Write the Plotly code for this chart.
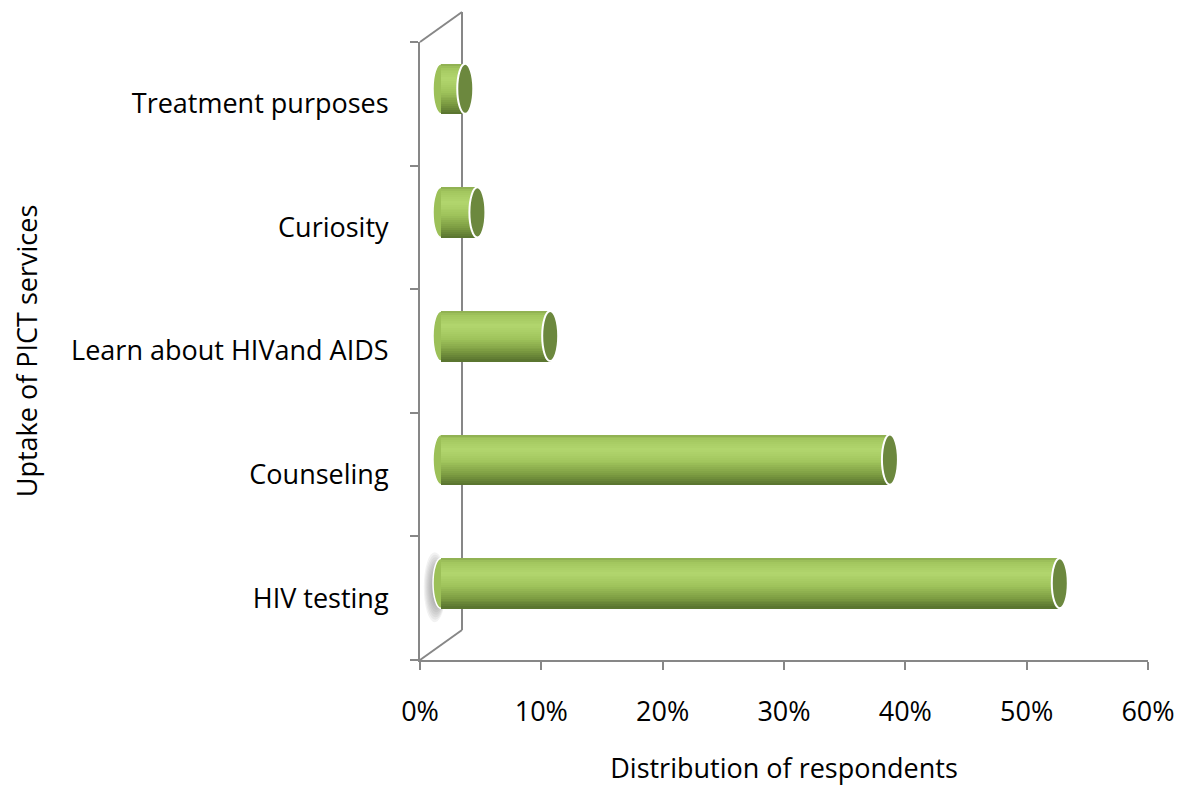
import plotly.graph_objects as go

# ---- data ----
categories = ["HIV testing", "Counseling", "Learn about HIVand AIDS", "Curiosity", "Treatment purposes"]
values = [51, 37, 9, 3, 2]          # percent of respondents
x_ticks = [0, 10, 20, 30, 40, 50, 60]
x_tick_labels = ["0%", "10%", "20%", "30%", "40%", "50%", "60%"]

# ---- geometry / style ----
W, H = 1189, 786
px_left, px_right = 420, 1148      # front x-axis extent (pixels)
px_top, px_bottom = 42, 660        # front y-axis extent (pixels)
depth_dx, depth_dy = 42, 30        # full 3-D depth offset (pixels)
bar_dx, bar_dy = depth_dx / 2, depth_dy / 2
FONT = "Open Sans"
FS = 27
AX_COL = "#878787"
bar_w = 0.405                      # bar thickness in category units
cap_px = 8                         # horizontal radius of the end ellipse (px)

def fx(px):
    return px / W

def fy(py):
    return 1 - py / H

px_per_unit = (px_right - px_left) / (x_ticks[-1] - x_ticks[0])
cap_rx = cap_px / px_per_unit
pad = 3.0                          # room left of zero on the bar axis for the rounded end

# vertical gradient of the cylinder (top -> bottom)
stops = [(0.0, (140, 172, 80)), (0.08, (162, 198, 94)), (0.3, (178, 214, 110)),
         (0.55, (160, 196, 92)), (0.8, (124, 156, 66)), (1.0, (88, 114, 46))]

def grad(t):
    for (t0, c0), (t1, c1) in zip(stops[:-1], stops[1:]):
        if t0 <= t <= t1:
            f = (t - t0) / (t1 - t0)
            c = [round(a + (b - a) * f) for a, b in zip(c0, c1)]
            return "rgb(%d,%d,%d)" % tuple(c)
    return "rgb(%d,%d,%d)" % stops[-1][1]

fig = go.Figure()

# invisible trace carrying the category axis
fig.add_trace(go.Scatter(x=values, y=categories, mode="markers",
                         marker=dict(opacity=0), hoverinfo="skip",
                         showlegend=False, xaxis="x", yaxis="y"))

idx = list(range(len(categories)))
N = 26
for k in range(N):
    top = bar_w / 2 - k * bar_w / N
    fig.add_trace(go.Bar(
        x=values, y=idx, orientation="h", base=0,
        offset=-bar_w / 2, width=top + bar_w / 2,
        marker=dict(color=grad((k + 0.5) / N), line=dict(width=0)),
        xaxis="x2", yaxis="y2", hoverinfo="skip", showlegend=False))

shapes = []
# 3-D wall / floor lines (decoration)
line = dict(color=AX_COL, width=2)
shapes.append(dict(type="line", xref="paper", yref="paper", layer="below",
                   x0=fx(px_left), y0=fy(px_top), x1=fx(px_left + depth_dx), y1=fy(px_top - depth_dy), line=line))
shapes.append(dict(type="line", xref="paper", yref="paper", layer="below",
                   x0=fx(px_left + depth_dx), y0=fy(px_top - depth_dy),
                   x1=fx(px_left + depth_dx), y1=fy(px_bottom - depth_dy), line=line))
shapes.append(dict(type="line", xref="paper", yref="paper", layer="below",
                   x0=fx(px_left), y0=fy(px_bottom), x1=fx(px_left + depth_dx), y1=fy(px_bottom - depth_dy), line=line))

# soft shadow at the base of the longest cylinder
i_max = values.index(max(values))
for s in range(8):
    shapes.append(dict(type="circle", xref="x2", yref="y2", layer="below",
                       x0=-cap_rx * (2.0 - 0.14 * s) - 0.1, x1=cap_rx * (0.6 - 0.05 * s),
                       y0=i_max - bar_w * (0.78 - 0.05 * s), y1=i_max + bar_w * (0.62 - 0.05 * s),
                       fillcolor="rgba(110,110,110,0.09)", line=dict(width=0)))

# rounded left ends and end caps of cylinders
for i, v in zip(idx, values):
    shapes.append(dict(type="circle", xref="x2", yref="y2", layer="below",
                       x0=-cap_rx, x1=cap_rx, y0=i - bar_w / 2, y1=i + bar_w / 2,
                       fillcolor="rgb(156,192,88)", line=dict(color="white", width=1.5)))
    shapes.append(dict(type="circle", xref="x2", yref="y2", layer="above",
                       x0=v - cap_rx, x1=v + cap_rx, y0=i - bar_w / 2, y1=i + bar_w / 2,
                       fillcolor="rgb(108,136,62)", line=dict(color="white", width=2)))

fig.update_layout(
    width=W, height=H,
    margin=dict(l=0, r=0, t=0, b=0),
    paper_bgcolor="white", plot_bgcolor="rgba(0,0,0,0)",
    font=dict(family=FONT, size=FS, color="black"),
    barmode="overlay", bargap=0,
    showlegend=False,
    shapes=shapes,
    xaxis=dict(domain=[fx(px_left), fx(px_right)], range=[x_ticks[0], x_ticks[-1]],
               tickvals=x_ticks, ticktext=x_tick_labels,
               showline=True, linecolor=AX_COL, linewidth=2,
               ticks="outside", ticklen=8, tickwidth=2, tickcolor=AX_COL,
               showgrid=False, zeroline=False, fixedrange=True,
               ticklabelstandoff=19,
               title=dict(text="Distribution of respondents", standoff=33,
                          font=dict(size=FS)),
               anchor="y", automargin=False),
    yaxis=dict(domain=[fy(px_bottom), fy(px_top)], type="category",
               categoryorder="array", categoryarray=categories,
               range=[-0.5, len(categories) - 0.5],
               tickson="boundaries",
               showline=True, linecolor=AX_COL, linewidth=2,
               ticks="outside", ticklen=8, tickwidth=2, tickcolor=AX_COL,
               showgrid=False, zeroline=False, fixedrange=True,
               ticklabelstandoff=24,
               title=dict(text="Uptake of PICT services", standoff=26,
                          font=dict(size=FS)),
               anchor="x", automargin=False),
    xaxis2=dict(domain=[fx(px_left + bar_dx - pad * px_per_unit), fx(px_right + bar_dx)],
                range=[x_ticks[0] - pad, x_ticks[-1]], visible=False,
                anchor="y2", fixedrange=True),
    yaxis2=dict(domain=[fy(px_bottom - bar_dy), fy(px_top - bar_dy)],
                range=[-0.5, len(categories) - 0.5], visible=False,
                anchor="x2", fixedrange=True),
)

fig.write_html("out.html", config={"displayModeBar": False},
               post_script="document.body.style.margin='0';document.body.style.overflow='hidden';")
